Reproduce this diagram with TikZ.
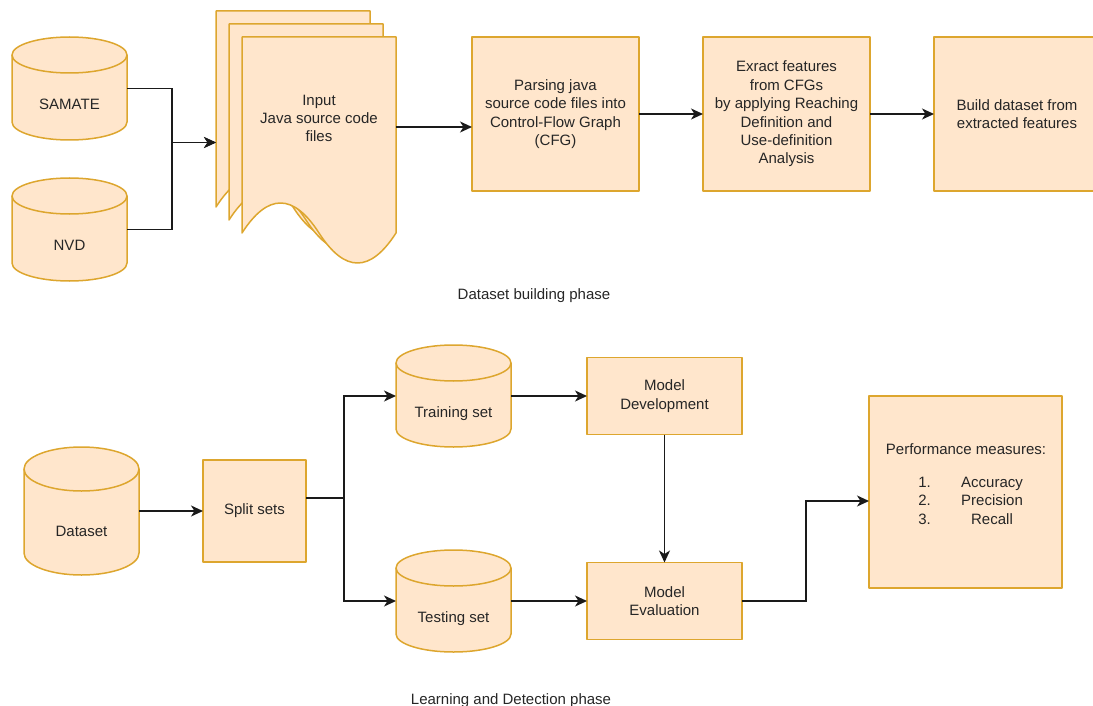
\documentclass[tikz,border=0pt]{standalone}
\usepackage{fontspec}
\setmainfont{Liberation Sans}
\usetikzlibrary{arrows.meta}

\definecolor{shapefill}{HTML}{FFE6CC}
\definecolor{shapeline}{HTML}{DDA62E}
\definecolor{inkline}{HTML}{1A1A1A}
\definecolor{inktext}{HTML}{262626}

\tikzset{
  every node/.style={font=\fontsize{15}{18.4}\selectfont, text=inktext},
  shapebody/.style={draw=shapeline, fill=shapefill, line width=1.5pt, line join=round},
  procbox/.style={shapebody, align=center, inner sep=0pt, outer sep=0pt},
  anchorbox/.style={inner sep=0pt, outer sep=0pt, draw=none},
  lbl/.style={align=center, inner sep=0pt, outer sep=0pt},
  baselbl/.style={inner sep=0pt, outer sep=0pt, anchor=base},
  conn/.style={draw=inkline, line width=1.6pt,
    -{Stealth[length=12pt,width=11pt,inset=3.5pt]}},
}

% database cylinder: name, left, top, right, bottom, cap half-height
\newcommand\dbcyl[6]{%
  \path[shapebody] (#2,{#3+#6}) -- (#2,{#5-#6})
    arc[start angle=180, end angle=0, x radius={(#4-#2)/2}, y radius=#6]
    -- (#4,{#3+#6})
    arc[start angle=0, end angle=-180, x radius={(#4-#2)/2}, y radius=#6] -- cycle;
  \draw[draw=shapeline, line width=1.5pt] (#2,{#3+#6})
    arc[start angle=180, end angle=0, x radius={(#4-#2)/2}, y radius=#6];
  \node[anchorbox, minimum width={#4-#2}, minimum height={#5-#3}]
    (#1) at ({(#2+#4)/2},{(#3+#5)/2}) {};
}

% one sheet of the source-file stack (wavy lower edge), top-left corner given
\newcommand\docsheet[2]{%
  \path[shapebody] (#1,#2) -- ({#1+154},#2) -- ({#1+154},{#2+196})
    .. controls ({#1+128.3},{#2+236}) and ({#1+102.7},{#2+236}) .. ({#1+77},{#2+196})
    .. controls ({#1+51.3},{#2+156}) and ({#1+25.7},{#2+156}) .. (#1,{#2+196}) -- cycle;
}

\begin{document}
\begin{tikzpicture}[x=1pt, y=-1pt]
  \path[use as bounding box, clip] (0,0) rectangle (1093,706);

  % ---------------- Dataset building phase ----------------
  \dbcyl{samate}{12}{37}{127}{140}{18}
  \node[baselbl] (samatetxt) at (69.5,109.5) {SAMATE};
  \dbcyl{nvd}{12}{178}{127}{281}{18}
  \node[baselbl] (nvdtxt) at (69.5,250.5) {NVD};

  \docsheet{216}{11}
  \docsheet{229}{24}
  \docsheet{242}{37}
  \node[anchorbox, minimum width=154pt, minimum height=196pt] (docback) at (293,109) {};
  \node[anchorbox, minimum width=154pt, minimum height=180pt] (docfront) at (319,127) {};
  \node[lbl] (doctxt) at (319,118.5) {Input\\Java source code\\files};

  \node[procbox, minimum width=167pt, minimum height=154pt] (parse) at (555.5,114)
    {Parsing java\\source code files into\\Control-Flow Graph\\(CFG)};
  \node[procbox, minimum width=167pt, minimum height=154pt] (extract) at (786.5,114)
    {Exract features\\from CFGs\\by applying Reaching\\Definition and\\Use-definition\\Analysis};
  \node[procbox, minimum width=166pt, minimum height=154pt] (build) at (1017,114)
    {Build dataset from\\extracted features};

  \coordinate (srcjoin) at (172,142.5);
  \draw[conn] (samate.east) -| (srcjoin) -- (srcjoin -| docback.west);
  \draw[conn] (nvd.east) -| (srcjoin) -- (srcjoin -| docback.west);
  \draw[conn] (docfront.east) -- (docfront.east -| parse.west);
  \draw[conn] (parse.east) -- (extract.west);
  \draw[conn] (extract.east) -- (build.west);

  \node[baselbl] (phaseone) at (534,299.5) {Dataset building phase};

  % ---------------- Learning and Detection phase ----------------
  \dbcyl{dataset}{24}{447}{139}{575}{22}
  \node[baselbl] (datasettxt) at (81.5,536.5) {Dataset};
  \node[procbox, minimum width=103pt, minimum height=102pt] (split) at (254.5,511) {Split sets};

  \dbcyl{train}{396}{345}{511}{447}{18}
  \node[baselbl] (traintxt) at (453.5,417) {Training set};
  \dbcyl{test}{396}{550}{511}{652}{18}
  \node[baselbl] (testtxt) at (453.5,622) {Testing set};

  \node[procbox, minimum width=155pt, minimum height=77pt] (dev) at (664.5,396) {Model\\Development};
  \node[procbox, minimum width=155pt, minimum height=77pt] (eval) at (664.5,601) {Model\\Evaluation};

  \node[procbox, minimum width=193pt, minimum height=192pt] (perf) at (965.5,492) {};
  \node[baselbl] (perfhead) at (966,454.5) {Performance measures:};
  \node[baselbl] (num1) at (924.5,487.5) {1.};
  \node[baselbl] (num2) at (924.5,505.5) {2.};
  \node[baselbl] (num3) at (924.5,524) {3.};
  \node[baselbl] (item1) at (992,487.5) {Accuracy};
  \node[baselbl] (item2) at (992,505.5) {Precision};
  \node[baselbl] (item3) at (992,524) {Recall};

  \draw[conn] (dataset.east) -- (split.west);
  \coordinate (splitjoin) at (344,498);
  \draw[conn] ([yshift=13pt]split.east) -- (splitjoin) |- (train.west);
  \draw[conn] ([yshift=13pt]split.east) -- (splitjoin) |- (test.west);
  \draw[conn] (train.east) -- (dev.west);
  \draw[conn] (test.east) -- (eval.west);
  \draw[conn] (dev.south) -- (eval.north);
  \coordinate (perfin) at ([yshift=-9pt]perf.west);
  \draw[conn] (eval.east) -- ++(64,0) |- (perfin);

  \node[baselbl] (phasetwo) at (511,704.5) {Learning and Detection phase};
\end{tikzpicture}
\end{document}
